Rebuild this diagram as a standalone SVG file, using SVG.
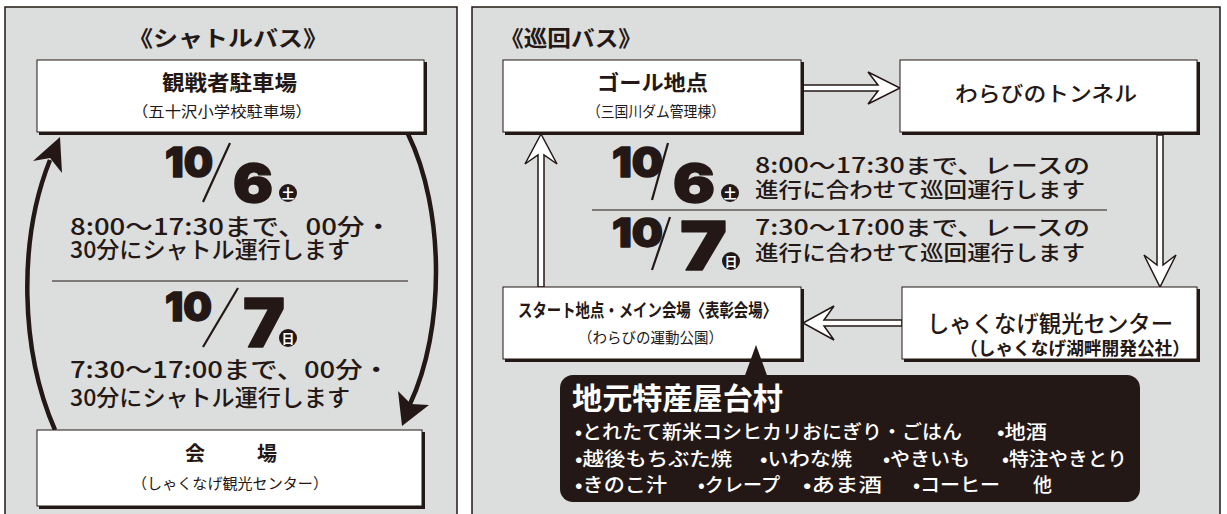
<svg xmlns="http://www.w3.org/2000/svg" width="1227" height="514" viewBox="0 0 1227 514">
<style>
.panel{fill:#dcdddd;stroke:#231815;stroke-width:1.5}
.box{fill:#ffffff;stroke:#231815;stroke-width:1}
.shadow{fill:#231815}
.jp{font-family:"Noto Sans CJK JP","Noto Sans",sans-serif;fill:#231815}
.b{font-weight:700}
.m{font-weight:500}
.num{font-family:Inter,"Liberation Sans",sans-serif;font-weight:900;fill:#231815;stroke:#231815;stroke-width:1.4;stroke-linejoin:round}
.harrow{fill:#ffffff;stroke:#231815;stroke-width:1.5;stroke-linejoin:miter}
.curve{fill:none;stroke:#231815;stroke-width:4.5}
.head{fill:#231815}
.div{stroke:#231815;stroke-width:1.2}
.wt{font-family:"Noto Sans CJK JP","Noto Sans",sans-serif;fill:#ffffff}
</style>
<rect width="1227" height="514" fill="#ffffff"/>
<rect class="panel" x="5" y="7" width="452" height="515"/>
<rect class="panel" x="472" y="7" width="748" height="515"/>

<g id="shuttle-title">
<text class="jp b" x="128" y="46" font-size="22" textLength="200" lengthAdjust="spacingAndGlyphs">《シャトルバス》</text>
</g>
<g id="junkai-title">
<text class="jp b" x="500" y="46" font-size="22" textLength="142" lengthAdjust="spacingAndGlyphs">《巡回バス》</text>
</g>

<g id="connectors">
<path class="curve" d="M55,430 C20,350 18,240 50,160"/>
<polygon class="head" points="60,137 33,161 50,158 62,173"/>
<path class="curve" d="M408,134 C445,210 445,330 410,404"/>
<polygon class="head" points="402,426 398,391 411,404 429,405"/>
<path class="harrow" d="M802,85 L878,85 L868,72 L900,88 L868,104 L878,91 L802,91 Z"/>
<path class="harrow" d="M1157,135 L1157,265 L1144,255 L1160,287 L1176,255 L1163,265 L1163,135 Z"/>
<path class="harrow" d="M902,320 L824,320 L834,306 L803,323 L834,340 L824,326 L902,326 Z"/>
<path class="harrow" d="M538,287 L538,155 L525,164 L541,134 L557,164 L544,155 L544,287 Z"/>
</g>

<g id="node-parking">
<rect class="shadow" x="39" y="62" width="388" height="73"/>
<rect class="box" x="37" y="60" width="387" height="72"/>
<text class="jp b" x="162" y="90" font-size="21" textLength="135" lengthAdjust="spacingAndGlyphs">観戦者駐車場</text>
<text class="jp" x="132" y="117" font-size="15" textLength="180" lengthAdjust="spacingAndGlyphs">（五十沢小学校駐車場）</text>
</g>

<g id="node-venue">
<rect class="shadow" x="39" y="432" width="386" height="77"/>
<rect class="box" x="37" y="430" width="385" height="76"/>
<text class="jp b" x="185" y="461" font-size="20">会</text>
<text class="jp b" x="257" y="461" font-size="20">場</text>
<text class="jp" x="132" y="489" font-size="15" textLength="196" lengthAdjust="spacingAndGlyphs">（しゃくなげ観光センター）</text>
</g>

<g id="shuttle-schedule">
<text class="num" x="165" y="177" font-size="41" textLength="48" lengthAdjust="spacingAndGlyphs">10</text>
<line x1="230" y1="143" x2="203" y2="202" stroke="#231815" stroke-width="2.2"/>
<text class="num" x="233" y="202" font-size="52" textLength="40" lengthAdjust="spacingAndGlyphs">6</text>
<circle cx="288" cy="193" r="9" fill="#231815"/>
<text x="288" y="198" font-size="13" text-anchor="middle" class="wt b">土</text>
<text class="jp m" x="70" y="235" font-size="23" textLength="322" lengthAdjust="spacingAndGlyphs">8:00～17:30まで、00分・</text>
<text class="jp m" x="70" y="258" font-size="23" textLength="280" lengthAdjust="spacingAndGlyphs">30分にシャトル運行します</text>
<line class="div" x1="52" y1="281" x2="408" y2="281"/>
<text class="num" x="165" y="321" font-size="40" textLength="47" lengthAdjust="spacingAndGlyphs">10</text>
<line x1="238" y1="288" x2="203" y2="347" stroke="#231815" stroke-width="2.2"/>
<text class="num" x="243" y="347" font-size="68" textLength="42" lengthAdjust="spacingAndGlyphs">7</text>
<circle cx="288" cy="338" r="9" fill="#231815"/>
<text x="288" y="343" font-size="13" text-anchor="middle" class="wt b">日</text>
<text class="jp m" x="70" y="378" font-size="23" textLength="320" lengthAdjust="spacingAndGlyphs">7:30～17:00まで、00分・</text>
<text class="jp m" x="70" y="406" font-size="23" textLength="280" lengthAdjust="spacingAndGlyphs">30分にシャトル運行します</text>
</g>

<g id="node-goal">
<rect class="shadow" x="505" y="62" width="299" height="73"/>
<rect class="box" x="503" y="60" width="298" height="72"/>
<text class="jp b" x="597" y="90" font-size="21" textLength="111" lengthAdjust="spacingAndGlyphs">ゴール地点</text>
<text class="jp" x="587" y="117" font-size="15" textLength="138" lengthAdjust="spacingAndGlyphs">（三国川ダム管理棟）</text>
</g>

<g id="node-tunnel">
<rect class="shadow" x="902" y="62" width="298" height="73"/>
<rect class="box" x="900" y="60" width="297" height="72"/>
<text class="jp m" x="955" y="101" font-size="21" textLength="182" lengthAdjust="spacingAndGlyphs">わらびのトンネル</text>
</g>

<g id="node-start">
<rect class="shadow" x="505" y="289" width="299" height="73"/>
<rect class="box" x="503" y="287" width="298" height="72"/>
<text class="jp b" x="518" y="317" font-size="18" textLength="259" lengthAdjust="spacingAndGlyphs">スタート地点・メイン会場〈表彰会場〉</text>
<text class="jp" x="578" y="343" font-size="15" textLength="145" lengthAdjust="spacingAndGlyphs">（わらびの運動公園）</text>
</g>

<g id="node-center">
<rect class="shadow" x="904" y="289" width="296" height="73"/>
<rect class="box" x="902" y="287" width="295" height="72"/>
<text class="jp m" x="927" y="332" font-size="23" textLength="246" lengthAdjust="spacingAndGlyphs">しゃくなげ観光センター</text>
<text class="jp b" x="960" y="355" font-size="18" textLength="230" lengthAdjust="spacingAndGlyphs">（しゃくなげ湖畔開発公社）</text>
</g>

<g id="junkai-schedule">
<text class="num" x="612" y="177" font-size="41" textLength="51" lengthAdjust="spacingAndGlyphs">10</text>
<line x1="668" y1="143" x2="652" y2="200" stroke="#231815" stroke-width="2.2"/>
<text class="num" x="673" y="202" font-size="52" textLength="42" lengthAdjust="spacingAndGlyphs">6</text>
<circle cx="730" cy="193" r="9" fill="#231815"/>
<text x="730" y="198" font-size="13" text-anchor="middle" class="wt b">土</text>
<text class="jp m" x="755" y="173" font-size="21" textLength="335" lengthAdjust="spacingAndGlyphs">8:00～17:30まで、レースの</text>
<text class="jp m" x="755" y="197" font-size="21" textLength="330" lengthAdjust="spacingAndGlyphs">進行に合わせて巡回運行します</text>
<line class="div" x1="592" y1="210" x2="1107" y2="210"/>
<text class="num" x="612" y="247" font-size="40" textLength="51" lengthAdjust="spacingAndGlyphs">10</text>
<line x1="670" y1="217" x2="652" y2="270" stroke="#231815" stroke-width="2.2"/>
<text class="num" x="680" y="270" font-size="68" textLength="47" lengthAdjust="spacingAndGlyphs">7</text>
<circle cx="731" cy="261" r="9" fill="#231815"/>
<text x="731" y="266" font-size="13" text-anchor="middle" class="wt b">日</text>
<text class="jp m" x="755" y="235" font-size="21" textLength="335" lengthAdjust="spacingAndGlyphs">7:30～17:00まで、レースの</text>
<text class="jp m" x="755" y="260" font-size="21" textLength="330" lengthAdjust="spacingAndGlyphs">進行に合わせて巡回運行します</text>
</g>

<g id="node-stalls">
<polygon points="744,378 756,345 768,378" fill="#231815"/>
<rect x="560" y="375" width="580" height="127" rx="13" fill="#231815"/>
<text class="wt b" x="572" y="409" font-size="30" textLength="211" lengthAdjust="spacingAndGlyphs">地元特産屋台村</text>
<g class="wt m" font-size="19">
<text x="575" y="439" textLength="387" lengthAdjust="spacingAndGlyphs">•とれたて新米コシヒカリおにぎり・ごはん</text>
<text x="997" y="439" textLength="50" lengthAdjust="spacingAndGlyphs">•地酒</text>
<text x="575" y="466" textLength="157" lengthAdjust="spacingAndGlyphs">•越後もちぶた焼</text>
<text x="760" y="466" textLength="92" lengthAdjust="spacingAndGlyphs">•いわな焼</text>
<text x="883" y="466" textLength="87" lengthAdjust="spacingAndGlyphs">•やきいも</text>
<text x="1002" y="466" textLength="125" lengthAdjust="spacingAndGlyphs">•特注やきとり</text>
<text x="575" y="492" textLength="92" lengthAdjust="spacingAndGlyphs">•きのこ汁</text>
<text x="698" y="492" textLength="82" lengthAdjust="spacingAndGlyphs">•クレープ</text>
<text x="803" y="492" textLength="79" lengthAdjust="spacingAndGlyphs">•あま酒</text>
<text x="913" y="492" textLength="87" lengthAdjust="spacingAndGlyphs">•コーヒー</text>
<text x="1033" y="492">他</text>
</g>
</g>
</svg>
